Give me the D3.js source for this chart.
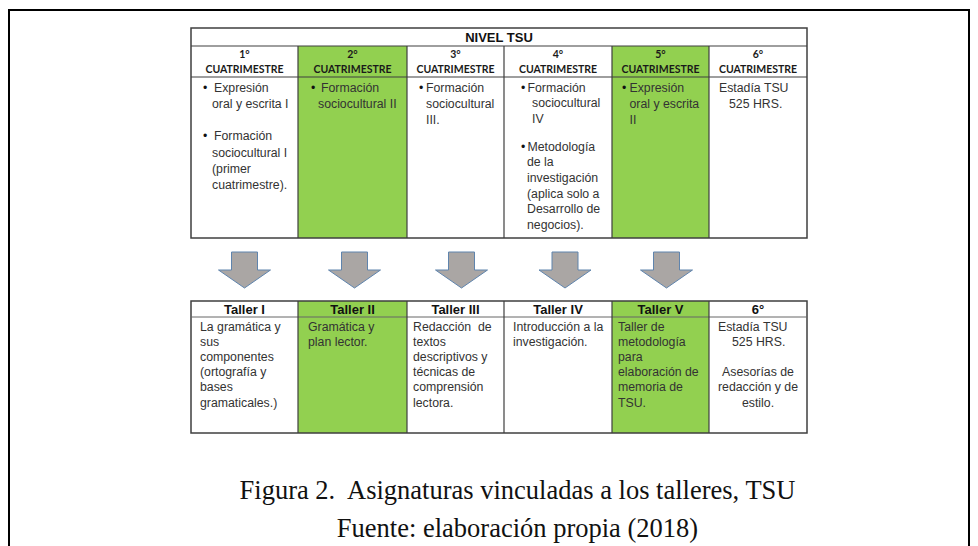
<!DOCTYPE html>
<html>
<head>
<meta charset="utf-8">
<script src="https://cdn.jsdelivr.net/npm/d3@7"></script>
<style>
  html, body { margin: 0; padding: 0; background: #fff; }
  svg { display: block; }
  text { white-space: pre; }
</style>
</head>
<body>
<svg id="chart" width="978" height="546"></svg>
<script>
// ---------------- DATA ----------------
const levelTitle = "NIVEL TSU";
const semesterNumbers = ["1°", "2°", "3°", "4°", "5°", "6°"];
const semesterWord = "CUATRIMESTRE";
const highlighted = [false, true, false, false, true, false];

const semesterSubjects = [
  [["Expresión", "oral y escrita I"], ["Formación", "sociocultural I", "(primer", "cuatrimestre)."]],
  [["Formación", "sociocultural II"]],
  [["Formación", "sociocultural", "III."]],
  [["Formación", "sociocultural", "IV"], ["Metodología", "de la", "investigación", "(aplica solo a", "Desarrollo de", "negocios)."]],
  [["Expresión", "oral y escrita", "II"]],
  [["Estadía TSU", "525 HRS."]]
];
const bulleted = [true, true, true, true, true, false];

const workshopTitles = ["Taller I", "Taller II", "Taller III", "Taller IV", "Taller V", "6°"];
const workshopText = [
  [["La gramática y", "sus", "componentes", "(ortografía y", "bases", "gramaticales.)"]],
  [["Gramática y", "plan lector."]],
  [["Redacción  de", "textos", "descriptivos y", "técnicas de", "comprensión", "lectora."]],
  [["Introducción a la", "investigación."]],
  [["Taller de", "metodología", "para", "elaboración de", "memoria de", "TSU."]],
  [["Estadía TSU", "525 HRS."], ["Asesorías de", "redacción y de", "estilo."]]
];
const arrowColumns = [0, 1, 2, 3, 4];

const captionLines = [
  "Figura 2.  Asignaturas vinculadas a los talleres, TSU",
  "Fuente: elaboración propia (2018)"
];

// ---------------- LAYOUT ----------------
const colEdges = [191, 298, 407, 504, 612, 709, 807];
const colIdx = d3.range(semesterNumbers.length);
const xLeft = d3.scaleOrdinal().domain(colIdx).range(colEdges.slice(0, 6));
const xRight = d3.scaleOrdinal().domain(colIdx).range(colEdges.slice(1));
const xMid = i => (xLeft(i) + xRight(i)) / 2;

const tTop = { y0: 28, y1: 46, y2: 77, y3: 238 };
const tBot = { y0: 301, y1: 317, y2: 433 };

const topOffsets = [
  { b: 12, items: [{ f: 23, r: 21 }, { f: 23, r: 21 }], lh: 16.2, gap: 16.5 },
  { b: 13, items: [{ f: 23, r: 20 }], lh: 16, gap: 0 },
  { b: 12, items: [{ f: 19, r: 19 }], lh: 16, gap: 0 },
  { b: 17, items: [{ f: 23.5, r: 28 }, { f: 23.5, r: 23 }], lh: 15.7, gap: 12 },
  { b: 10, items: [{ f: 17.5, r: 17.5 }], lh: 16, gap: 0 },
  { b: 0, items: [{ f: 10, r: 20 }], lh: 16, gap: 0 }
];
const botOffsets = [9, 10, 6, 9, 6, 9];
const arrowShift = [0, 2, 6, 7, 6];

const green = "#92d050";
const lineColor = "#3f3f3f";
const textColor = "#333333";
const bodyFont = "'Liberation Sans', Arial, sans-serif";
const headFont = "Lato, 'Open Sans', sans-serif";
const serif = "'Liberation Serif', 'Times New Roman', serif";

const svg = d3.select("#chart");

svg.append("path")
  .attr("d", d3.line()([[9, 546], [9, 10], [969, 10], [969, 546]]))
  .attr("fill", "none").attr("stroke", "#000").attr("stroke-width", 2);

// ---------------- TOP TABLE ----------------
const gTop = svg.append("g");
gTop.selectAll("rect.fill").data(colIdx.filter(i => highlighted[i])).join("rect")
  .attr("x", i => xLeft(i)).attr("y", tTop.y1)
  .attr("width", i => xRight(i) - xLeft(i)).attr("height", tTop.y3 - tTop.y1)
  .attr("fill", green);

gTop.append("rect").attr("x", colEdges[0]).attr("y", tTop.y0)
  .attr("width", colEdges[6] - colEdges[0]).attr("height", tTop.y3 - tTop.y0)
  .attr("fill", "none").attr("stroke", lineColor).attr("stroke-width", 1.5);
[tTop.y1, tTop.y2].forEach(y => gTop.append("line")
  .attr("x1", colEdges[0]).attr("x2", colEdges[6]).attr("y1", y).attr("y2", y)
  .attr("stroke", lineColor).attr("stroke-width", 1.2));
gTop.selectAll("line.v").data(colEdges.slice(1, 6)).join("line")
  .attr("x1", d => d).attr("x2", d => d).attr("y1", tTop.y1).attr("y2", tTop.y3)
  .attr("stroke", lineColor).attr("stroke-width", 1.2);

gTop.append("text").attr("x", (colEdges[0] + colEdges[6]) / 2).attr("y", 42)
  .attr("text-anchor", "middle").attr("font-family", bodyFont).attr("font-weight", "bold")
  .attr("font-size", 13).attr("fill", "#111").text(levelTitle);

const hdr = gTop.selectAll("g.hdr").data(colIdx).join("g");
hdr.append("text").attr("x", i => xMid(i)).attr("y", 58)
  .attr("text-anchor", "middle").attr("font-family", headFont).attr("font-weight", "bold")
  .attr("font-size", 10.5).attr("fill", "#1a1a1a").text(i => semesterNumbers[i]);
hdr.append("text").attr("x", i => xMid(i)).attr("y", 72.5)
  .attr("text-anchor", "middle").attr("font-family", headFont).attr("font-weight", "bold")
  .attr("font-size", 10.5).attr("fill", "#1a1a1a").text(semesterWord);

colIdx.forEach(i => {
  const o = topOffsets[i];
  let y = 91.5;
  semesterSubjects[i].forEach((item, k) => {
    const io = o.items[k];
    if (bulleted[i]) {
      gTop.append("text").attr("x", xLeft(i) + o.b).attr("y", y)
        .attr("font-family", bodyFont).attr("font-size", 12.3).attr("fill", "#111").text("•");
    }
    item.forEach((line, j) => {
      gTop.append("text").attr("x", xLeft(i) + (j === 0 ? io.f : io.r)).attr("y", y)
        .attr("font-family", bodyFont).attr("font-size", 12.3).attr("fill", textColor).text(line);
      y += o.lh;
    });
    y += o.gap;
  });
});

// ---------------- ARROWS ----------------
const arrowPath = cx => {
  const p = d3.path();
  p.moveTo(cx - 13, 252); p.lineTo(cx + 13, 252); p.lineTo(cx + 13, 270);
  p.lineTo(cx + 26, 270); p.lineTo(cx, 288); p.lineTo(cx - 26, 270);
  p.lineTo(cx - 13, 270); p.closePath();
  return p.toString();
};
svg.selectAll("path.arrow").data(arrowColumns).join("path")
  .attr("class", "arrow")
  .attr("d", i => arrowPath(xMid(i) + arrowShift[i]))
  .attr("fill", "#aaa6a4").attr("stroke", "#5f84ad").attr("stroke-width", 1);

// ---------------- BOTTOM TABLE ----------------
const gBot = svg.append("g");
gBot.selectAll("rect.fill").data(colIdx.filter(i => highlighted[i])).join("rect")
  .attr("x", i => xLeft(i)).attr("y", tBot.y0)
  .attr("width", i => xRight(i) - xLeft(i)).attr("height", tBot.y2 - tBot.y0)
  .attr("fill", green);
gBot.append("rect").attr("x", colEdges[0]).attr("y", tBot.y0)
  .attr("width", colEdges[6] - colEdges[0]).attr("height", tBot.y2 - tBot.y0)
  .attr("fill", "none").attr("stroke", lineColor).attr("stroke-width", 1.5);
gBot.append("line").attr("x1", colEdges[0]).attr("x2", colEdges[6])
  .attr("y1", tBot.y1).attr("y2", tBot.y1).attr("stroke", "#666").attr("stroke-width", 1);
gBot.selectAll("line.v").data(colEdges.slice(1, 6)).join("line")
  .attr("x1", d => d).attr("x2", d => d).attr("y1", tBot.y0).attr("y2", tBot.y2)
  .attr("stroke", lineColor).attr("stroke-width", 1.2);

gBot.selectAll("text.th").data(colIdx).join("text")
  .attr("x", i => xMid(i)).attr("y", 314)
  .attr("text-anchor", "middle").attr("font-family", bodyFont).attr("font-weight", "bold")
  .attr("font-size", 13).attr("fill", "#111").text(i => workshopTitles[i]);

colIdx.forEach(i => {
  let y = 330.5;
  workshopText[i].forEach((para, k) => {
    para.forEach((line, j) => {
      const t = gBot.append("text").attr("y", y)
        .attr("font-family", bodyFont).attr("font-size", 12.3).attr("fill", textColor).text(line);
      if (i === 5 && k === 1) t.attr("x", xMid(i)).attr("text-anchor", "middle");
      else if (i === 5 && j === 1) t.attr("x", xLeft(i) + 23);
      else t.attr("x", xLeft(i) + botOffsets[i]);
      y += 15.2;
    });
    y += 15.2;
  });
});

// ---------------- CAPTION ----------------
svg.selectAll("text.cap").data(captionLines).join("text")
  .attr("x", 517.5).attr("y", (d, i) => 499 + i * 38)
  .attr("text-anchor", "middle").attr("font-family", serif)
  .attr("font-size", 26.5).attr("fill", "#111").text(d => d);
</script>
</body>
</html>
